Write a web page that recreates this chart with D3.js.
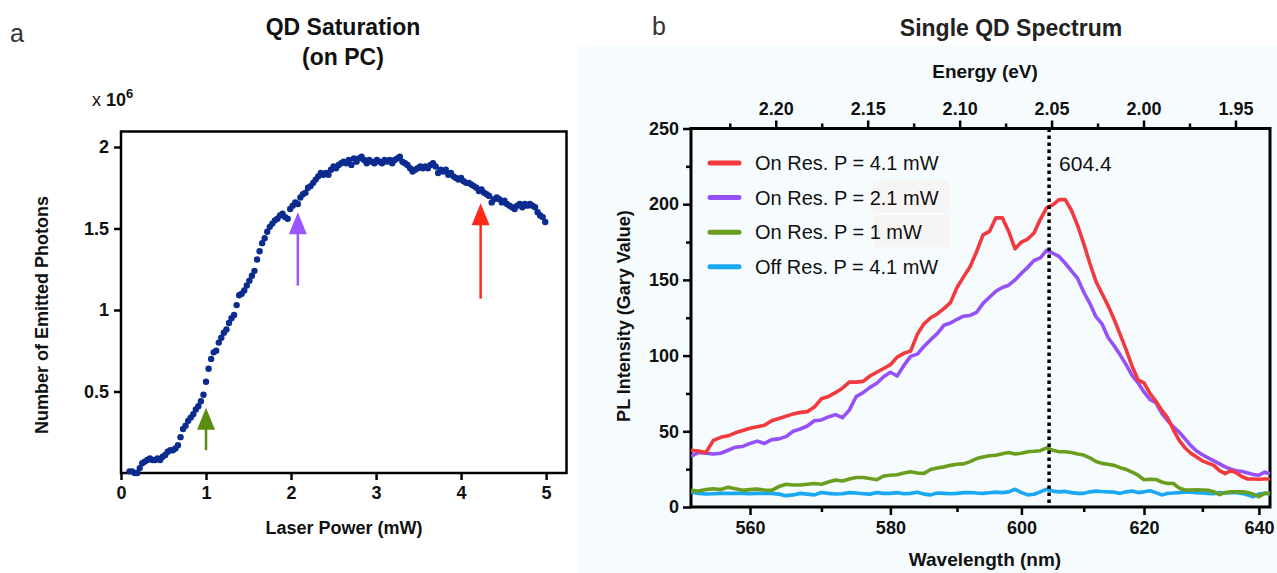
<!DOCTYPE html>
<html>
<head>
<meta charset="utf-8">
<script src="https://cdn.jsdelivr.net/npm/d3@7"></script>
<style>
  body { margin: 0; background: #fff; }
  svg { display: block; font-family: "Liberation Sans", Arial, sans-serif; }
  .tick text { font-weight: bold; font-size: 18px; fill: #111; }
</style>
</head>
<body>
<svg id="fig" width="1277" height="573"></svg>
<script>
// ---------- panel a : saturation curve (photons in units of 1e6) ----------
const laserPower = [
  0.10, 0.13, 0.16, 0.19, 0.22, 0.25, 0.28, 0.31, 0.34, 0.37,
  0.40, 0.43, 0.46, 0.49, 0.52, 0.55, 0.58, 0.61, 0.64, 0.67,
  0.70, 0.73, 0.76, 0.79, 0.82, 0.85, 0.88, 0.91, 0.94, 0.97,
  1.00, 1.03, 1.06, 1.09, 1.12, 1.15, 1.18, 1.21, 1.24, 1.27,
  1.30, 1.33, 1.36, 1.39, 1.42, 1.45, 1.48, 1.51, 1.54, 1.57,
  1.60, 1.63, 1.66, 1.69, 1.72, 1.75, 1.78, 1.81, 1.84, 1.87,
  1.90, 1.93, 1.96, 1.99, 2.02, 2.05, 2.08, 2.11, 2.14, 2.17,
  2.20, 2.23, 2.26, 2.29, 2.32, 2.35, 2.38, 2.41, 2.44, 2.47,
  2.50, 2.53, 2.56, 2.59, 2.62, 2.65, 2.68, 2.71, 2.74, 2.77,
  2.80, 2.83, 2.86, 2.89, 2.92, 2.95, 2.98, 3.01, 3.04, 3.07,
  3.10, 3.13, 3.16, 3.19, 3.22, 3.25, 3.28, 3.31, 3.34, 3.37,
  3.40, 3.43, 3.46, 3.49, 3.52, 3.55, 3.58, 3.61, 3.64, 3.67,
  3.70, 3.73, 3.76, 3.79, 3.82, 3.85, 3.88, 3.91, 3.94, 3.97,
  4.00, 4.03, 4.06, 4.09, 4.12, 4.15, 4.18, 4.21, 4.24, 4.27,
  4.30, 4.33, 4.36, 4.39, 4.42, 4.45, 4.48, 4.51, 4.54, 4.57,
  4.60, 4.63, 4.66, 4.69, 4.72, 4.75, 4.78, 4.81, 4.84, 4.87,
  4.90, 4.93, 4.96, 4.99
];
const emittedPhotons = [
  0.01, 0.01, 0.00, 0.00, 0.03, 0.06, 0.07, 0.08, 0.09, 0.08,
  0.08, 0.09, 0.08, 0.10, 0.11, 0.13, 0.14, 0.14, 0.15, 0.17,
  0.22, 0.27, 0.29, 0.32, 0.34, 0.36, 0.39, 0.41, 0.44, 0.48,
  0.56, 0.64, 0.70, 0.74, 0.75, 0.80, 0.83, 0.86, 0.88, 0.92,
  0.95, 0.97, 1.03, 1.09, 1.10, 1.12, 1.15, 1.18, 1.21, 1.24,
  1.31, 1.36, 1.41, 1.44, 1.48, 1.51, 1.53, 1.55, 1.56, 1.58,
  1.59, 1.57, 1.56, 1.62, 1.64, 1.66, 1.65, 1.69, 1.71, 1.72,
  1.75, 1.76, 1.78, 1.80, 1.82, 1.84, 1.83, 1.84, 1.83, 1.86,
  1.88, 1.87, 1.89, 1.90, 1.91, 1.90, 1.92, 1.89, 1.93, 1.91,
  1.93, 1.94, 1.92, 1.90, 1.92, 1.91, 1.90, 1.92, 1.91, 1.90,
  1.92, 1.91, 1.92, 1.90, 1.92, 1.93, 1.94, 1.91, 1.90, 1.89,
  1.87, 1.85, 1.86, 1.87, 1.88, 1.87, 1.88, 1.87, 1.89, 1.90,
  1.88, 1.84, 1.86, 1.85, 1.86, 1.83, 1.84, 1.82, 1.81, 1.80,
  1.81, 1.79, 1.78, 1.78, 1.77, 1.76, 1.75, 1.73, 1.74, 1.72,
  1.71, 1.70, 1.66, 1.68, 1.69, 1.68, 1.66, 1.67, 1.65, 1.64,
  1.63, 1.62, 1.64, 1.65, 1.63, 1.65, 1.64, 1.65, 1.64, 1.63,
  1.60, 1.58, 1.57, 1.54
];
const powerTicks = [0, 1, 2, 3, 4, 5];
const photonTicks = [0.5, 1, 1.5, 2];

// arrows marking the three powers used in panel b
const arrowPower = [1.0, 2.08, 4.23];
const arrowFrom = [0.14, 1.15, 1.07];
const arrowTo = [0.40, 1.60, 1.655];
const arrowColors = ["#5a8c10", "#9a55ff", "#ff2a1a"];

// ---------- panel b : spectra ----------
const wavelength = [
  552, 553, 554, 555, 556, 557, 558, 559, 560, 561,
  562, 563, 564, 565, 566, 567, 568, 569, 570, 571,
  572, 573, 574, 575, 576, 577, 578, 579, 580, 581,
  582, 583, 584, 585, 586, 587, 588, 589, 590, 591,
  592, 593, 594, 595, 596, 597, 598, 599, 600, 601,
  602, 603, 604, 605, 606, 607, 608, 609, 610, 611,
  612, 613, 614, 615, 616, 617, 618, 619, 620, 621,
  622, 623, 624, 625, 626, 627, 628, 629, 630, 631,
  632, 633, 634, 635, 636, 637, 638, 639, 640, 641,
  642
];
const onRes41 = [
  37.5, 37, 36, 44, 46, 47, 49, 50.5, 52, 53,
  54, 57, 58.5, 60, 61.5, 62.5, 63, 66, 71.5, 73,
  75.5, 78.5, 82.5, 82.5, 83, 86.5, 89, 91.5, 94, 99,
  101.5, 103, 114, 121, 125, 127.5, 131, 135, 145, 152,
  158.7, 168.6, 179.7, 182, 191, 191, 182, 170.5, 175, 177,
  181, 190, 197.5, 199.5, 203, 203, 196, 186, 174, 161,
  149, 141, 133, 124, 114, 104, 93, 84, 82, 75,
  70, 64, 59, 51, 44, 39, 35.5, 33, 30.5, 29,
  27.5, 24, 22, 24, 22.5, 20, 18.5, 18.5, 18.3, 18.5,
  18.5
];
const onRes21 = [
  33.5, 36, 35.5, 35, 35.5, 37.5, 39.5, 40, 42, 43.5,
  42, 44.5, 45, 46.5, 50, 51.5, 53.5, 57, 57.5, 59.5,
  61, 59, 64, 73, 75.5, 79, 81.7, 86, 89, 86.5,
  93.5, 99.5, 101, 106, 110.5, 114.5, 120, 121.5, 124, 126,
  126.5, 128.5, 134.5, 138.5, 142.5, 145, 146.5, 150, 154.4, 158.3,
  162.8, 164.5, 169.5, 167.6, 165.5, 161, 156, 151, 142, 134.5,
  125.7, 121, 112, 106.5, 100.5, 94, 87, 82, 76, 71,
  69, 62, 57, 53, 49.5, 45, 40.5, 37, 34.5, 32.5,
  30.5, 28.5, 26.5, 25, 24, 23.5, 22.5, 21.5, 21, 23,
  22
];
const onRes1 = [
  11, 10.5, 11.5, 12, 11.5, 13, 12, 11, 11.5, 11.8,
  11.2, 11, 13.5, 15, 14.5, 14.5, 15, 15.5, 15, 16.5,
  17.8, 17.2, 18.5, 19.5, 19.5, 18.8, 18, 20.5, 21, 21.3,
  22.5, 23.3, 22.5, 22.2, 24.8, 25.8, 26.5, 27.5, 28.2, 28.5,
  30, 32, 33, 33.8, 34.2, 35.2, 36, 35, 35.5, 36.5,
  36.8, 37.2, 39, 37.5, 36.5, 36.5, 36, 35, 34.3, 32.5,
  30, 28.8, 28.2, 27.5, 26, 24.8, 23, 21, 18, 18.3,
  18.2, 16.5, 15.6, 15.5, 12.5, 11.2, 11.2, 11.3, 11.2, 11,
  10.1, 8.2, 9.5, 10.1, 10, 10, 9.6, 8.5, 6.8, 9,
  9
];
const offRes41 = [
  10, 9, 8.6, 8.8, 9, 9, 9, 9, 8.8, 9,
  9, 9, 8.5, 7.5, 8, 9, 8.5, 8, 9.6, 9,
  8.6, 8.8, 9.5, 9.2, 8.8, 8.5, 9.5, 9, 9, 9.5,
  8.8, 9, 9.8, 8.5, 8, 9.2, 9, 8.8, 9, 9.5,
  9.6, 9.2, 9, 9.4, 9.8, 9.5, 10, 11.7, 9.5, 8,
  8.4, 10, 11.7, 10.5, 10, 10.3, 9.5, 9, 9, 10,
  10.5, 10.2, 10, 9.8, 9, 10, 10.5, 9.5, 10, 10.8,
  9.5, 8, 9, 9.2, 9.5, 10, 9.8, 9.5, 9.2, 9,
  8.8, 9.5, 9.2, 9.5, 9.5, 9, 8, 6.8, 8.5, 9,
  9
];
const seriesNames = ["On Res. P = 4.1 mW", "On Res. P = 2.1 mW", "On Res. P = 1 mW", "Off Res. P = 4.1 mW"];
const seriesColors = ["#f23a3e", "#9550f8", "#6b9e1e", "#1aa8f2"];
const wavelengthTicks = [560, 580, 600, 620, 640];
const wavelengthMinor = [570, 590, 610, 630];
const energyTicks = [2.20, 2.15, 2.10, 2.05, 2.00, 1.95];
const energyMinor = [2.225, 2.175, 2.125, 2.075, 2.025, 1.975];
const intensityTicks = [0, 50, 100, 150, 200, 250];
const intensityMinor = [25, 75, 125, 175, 225];
const markerWavelength = 604.4;

const HC = 1239.84; // eV*nm

const svg = d3.select("#fig");

// light tinted background behind panel b
svg.append("rect")
  .attr("x", 578).attr("y", 45).attr("width", 699).attr("height", 528)
  .attr("fill", "#f6fcfe");

function styleAxis(g, w) {
  g.select(".domain").remove();
  g.selectAll(".tick line").attr("stroke", "#000").attr("stroke-width", w);
}

// =================== panel a ===================
const xA = d3.scaleLinear().domain([0, 5.24]).range([121, 566.5]);
const yA = d3.scaleLinear().domain([0, 2.095]).range([473, 131.5]);
const gA = svg.append("g");

gA.append("g")
  .attr("transform", "translate(0,473)")
  .call(d3.axisBottom(xA).tickValues(powerTicks).tickSize(7).tickPadding(6).tickFormat(d3.format("d")))
  .call(g => styleAxis(g, 2.5));

gA.append("g")
  .attr("transform", "translate(121,0)")
  .call(d3.axisLeft(yA).tickValues(photonTicks).tickSize(7).tickPadding(5).tickFormat(d => d))
  .call(g => styleAxis(g, 2.5));

gA.append("rect")
  .attr("x", xA(0)).attr("y", yA(2.095))
  .attr("width", xA(5.24) - xA(0)).attr("height", yA(0) - yA(2.095))
  .attr("fill", "none").attr("stroke", "#000").attr("stroke-width", 2.5);

gA.append("g")
  .selectAll("circle")
  .data(d3.zip(laserPower, emittedPhotons))
  .join("circle")
    .attr("cx", d => xA(d[0]))
    .attr("cy", d => yA(d[1]))
    .attr("r", 3.2)
    .attr("fill", "#0b2b8e");

arrowPower.forEach((p, i) => {
  const x = xA(p), tip = yA(arrowTo[i]);
  gA.append("line")
    .attr("x1", x).attr("x2", x)
    .attr("y1", yA(arrowFrom[i])).attr("y2", tip + 18)
    .attr("stroke", arrowColors[i]).attr("stroke-width", 2.5);
  gA.append("path")
    .attr("d", `M${x},${tip} L${x - 9},${tip + 22} L${x + 9},${tip + 22} Z`)
    .attr("fill", arrowColors[i]);
});

gA.append("text").attr("x", 10).attr("y", 42).attr("font-size", 25).attr("fill", "#333").text("a");
gA.append("text").attr("x", 343).attr("y", 35).attr("text-anchor", "middle")
  .attr("font-size", 23).attr("font-weight", "bold").attr("fill", "#111").text("QD Saturation");
gA.append("text").attr("x", 343).attr("y", 65).attr("text-anchor", "middle")
  .attr("font-size", 23).attr("font-weight", "bold").attr("fill", "#111").text("(on PC)");

const expo = gA.append("text").attr("x", 92).attr("y", 106).attr("font-size", 18).attr("fill", "#111");
expo.append("tspan").text("x ");
expo.append("tspan").attr("font-weight", "bold").text("10");
expo.append("tspan").attr("font-weight", "bold").attr("font-size", 13).attr("dy", -8).text("6");

gA.append("text")
  .attr("transform", "translate(48,315) rotate(-90)")
  .attr("text-anchor", "middle").attr("font-size", 18).attr("font-weight", "bold").attr("fill", "#111")
  .text("Number of Emitted Photons");
gA.append("text")
  .attr("x", 344).attr("y", 534).attr("text-anchor", "middle")
  .attr("font-size", 18).attr("font-weight", "bold").attr("fill", "#111")
  .text("Laser Power (mW)");

// =================== panel b ===================
// x is linear in photon energy; the bottom axis is labelled in wavelength
const xB = d3.scaleLinear().domain([HC / 552, HC / 642]).range([691, 1270]);
const xW = w => xB(HC / w);
const yB = d3.scaleLinear().domain([0, 250]).range([507, 128.5]);
const gB = svg.append("g");

gB.append("g")
  .attr("transform", "translate(0,507)")
  .call(d3.axisBottom(xB).tickValues(wavelengthTicks.map(w => HC / w)).tickSize(8).tickPadding(6)
    .tickFormat(e => Math.round(HC / e)))
  .call(g => styleAxis(g, 2.5));
gB.append("g")
  .attr("transform", "translate(0,507)")
  .call(d3.axisBottom(xB).tickValues(wavelengthMinor.map(w => HC / w)).tickSize(5).tickFormat(""))
  .call(g => styleAxis(g, 2.5));

gB.append("g")
  .attr("transform", "translate(0,128.5)")
  .call(d3.axisTop(xB).tickValues(energyTicks).tickSize(8).tickPadding(6).tickFormat(d3.format(".2f")))
  .call(g => styleAxis(g, 2.5));
gB.append("g")
  .attr("transform", "translate(0,128.5)")
  .call(d3.axisTop(xB).tickValues(energyMinor).tickSize(5).tickFormat(""))
  .call(g => styleAxis(g, 2.5));

gB.append("g")
  .attr("transform", "translate(691,0)")
  .call(d3.axisLeft(yB).tickValues(intensityTicks).tickSize(8).tickPadding(4).tickFormat(d3.format("d")))
  .call(g => styleAxis(g, 2.5));
gB.append("g")
  .attr("transform", "translate(691,0)")
  .call(d3.axisLeft(yB).tickValues(intensityMinor).tickSize(5).tickFormat(""))
  .call(g => styleAxis(g, 2.5));

gB.append("rect")
  .attr("x", 691).attr("y", yB(250)).attr("width", 1270 - 691).attr("height", yB(0) - yB(250))
  .attr("fill", "none").attr("stroke", "#000").attr("stroke-width", 3);

gB.append("clipPath").attr("id", "clipB")
  .append("rect").attr("x", 691).attr("y", yB(250)).attr("width", 1270 - 691).attr("height", yB(0) - yB(250));

const series = [onRes41, onRes21, onRes1, offRes41];
const line = d3.line().x(d => xW(d[0])).y(d => yB(d[1]));

// draw back to front so red sits on top like the original
const plotB = gB.append("g").attr("clip-path", "url(#clipB)");
[3, 2, 1, 0].forEach(i => {
  plotB.append("path")
    .datum(d3.zip(wavelength, series[i]))
    .attr("d", line)
    .attr("fill", "none")
    .attr("stroke", seriesColors[i])
    .attr("stroke-width", 3.6)
    .attr("stroke-linejoin", "round");
});

plotB.append("line")
  .attr("x1", xW(markerWavelength)).attr("x2", xW(markerWavelength))
  .attr("y1", yB(250)).attr("y2", yB(0))
  .attr("stroke", "#000").attr("stroke-width", 3.5).attr("stroke-dasharray", "3.5,3.5");

gB.append("text")
  .attr("x", xW(markerWavelength) + 10).attr("y", 171)
  .attr("font-size", 21).attr("fill", "#111").text(markerWavelength.toFixed(1));

// legend (the faint boxes behind two labels are part of the original figure)
gB.append("rect").attr("x", 873).attr("y", 181).attr("width", 76).attr("height", 32).attr("fill", "#f7f4f4");
gB.append("rect").attr("x", 873).attr("y", 215).attr("width", 76).attr("height", 32).attr("fill", "#f7f4f4");

seriesNames.forEach((name, i) => {
  const y = 163 + i * 34.6;
  gB.append("line")
    .attr("x1", 710).attr("x2", 739).attr("y1", y).attr("y2", y)
    .attr("stroke", seriesColors[i]).attr("stroke-width", 5).attr("stroke-linecap", "round");
  gB.append("text")
    .attr("x", 755).attr("y", y + 7)
    .attr("font-size", 20).attr("fill", "#111").text(name);
});

gB.append("text").attr("x", 652).attr("y", 35).attr("font-size", 25).attr("fill", "#333").text("b");
gB.append("text").attr("x", 1011).attr("y", 36).attr("text-anchor", "middle")
  .attr("font-size", 23).attr("font-weight", "bold").attr("fill", "#222").text("Single QD Spectrum");
gB.append("text").attr("x", 985).attr("y", 78).attr("text-anchor", "middle")
  .attr("font-size", 19).attr("font-weight", "bold").attr("fill", "#111").text("Energy (eV)");
gB.append("text")
  .attr("transform", "translate(630,316) rotate(-90)")
  .attr("text-anchor", "middle").attr("font-size", 18).attr("font-weight", "bold").attr("fill", "#111")
  .text("PL Intensity (Gary Value)");
gB.append("text")
  .attr("x", 985).attr("y", 566).attr("text-anchor", "middle")
  .attr("font-size", 19).attr("font-weight", "bold").attr("fill", "#111")
  .text("Wavelength (nm)");
</script>
</body>
</html>
